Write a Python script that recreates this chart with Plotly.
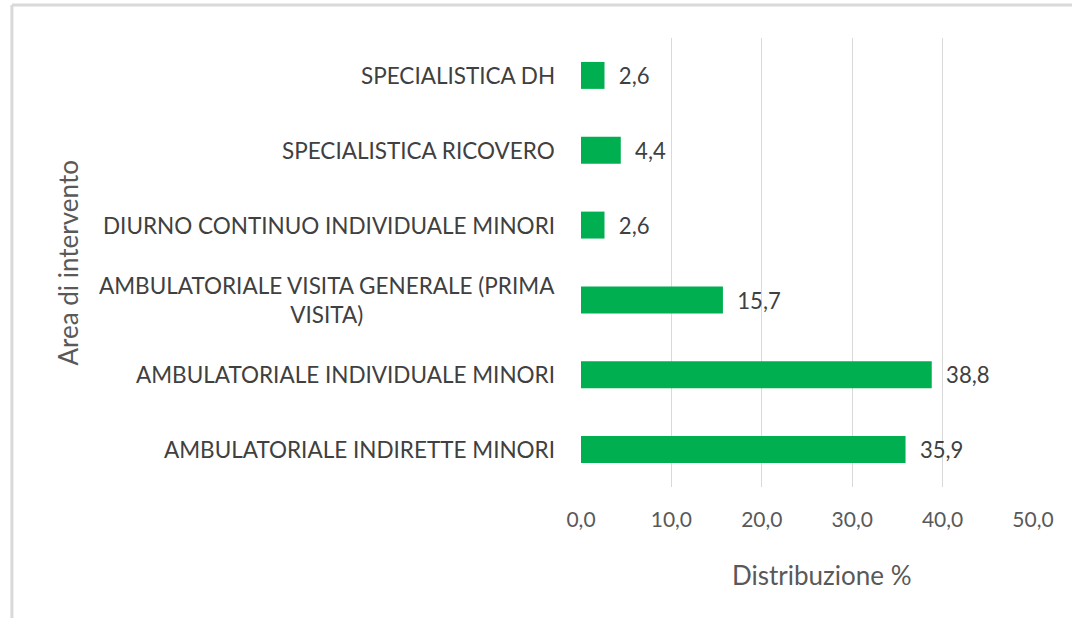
import plotly.graph_objects as go

categories = [
    "AMBULATORIALE INDIRETTE MINORI",
    "AMBULATORIALE INDIVIDUALE MINORI",
    "AMBULATORIALE VISITA GENERALE (PRIMA<br>VISITA)",
    "DIURNO CONTINUO INDIVIDUALE MINORI",
    "SPECIALISTICA RICOVERO",
    "SPECIALISTICA DH",
]
values = [35.9, 38.8, 15.7, 2.6, 4.4, 2.6]
tick_vals = [0, 10, 20, 30, 40, 50]

FONT = "Lato"
fig = go.Figure()
fig.add_trace(go.Bar(
    y=categories, x=values, orientation="h",
    marker=dict(color="#00B050", line=dict(width=0)),
    width=0.36,
    text=["  " + f"{v:.1f}".replace(".", ",") for v in values],
    textposition="outside",
    textfont=dict(family=FONT, size=23, color="#404040"),
    cliponaxis=False,
))

annotations = []
for c in categories:
    annotations.append(dict(
        x=0, xref="paper", y=c, yref="y", xanchor="right", yanchor="middle",
        xshift=-24, align="center", showarrow=False, text=c,
        font=dict(family=FONT, size=22.5, color="#404040"),
    ))
annotations.append(dict(
    x=-1.135, xref="paper", y=0.5, yref="paper", showarrow=False,
    xanchor="center", yanchor="middle",
    text="Area di intervento", textangle=-90,
    font=dict(family=FONT, size=26, color="#595959"),
))
annotations.append(dict(
    x=0.533, xref="paper", y=-0.196, yref="paper", showarrow=False,
    text="Distribuzione %", xanchor="center", yanchor="middle",
    font=dict(family=FONT, size=26, color="#595959"),
))

fig.update_layout(
    width=1072, height=618,
    margin=dict(l=581, r=39, t=38, b=131),
    paper_bgcolor="white", plot_bgcolor="white",
    separators=",.",
    showlegend=False,
    annotations=annotations,
    shapes=[
        dict(type="line", xref="paper", yref="paper", x0=-1.259, x1=1.2, y0=1.0735, y1=1.0735,
             line=dict(color="#d9d9d9", width=3)),
        dict(type="line", xref="paper", yref="paper", x0=-1.259, x1=-1.259, y0=1.0735, y1=-0.35,
             line=dict(color="#d9d9d9", width=3)),
    ],
)
fig.update_xaxes(
    range=[0, 50], tickvals=tick_vals, tickformat=".1f",
    showgrid=True, gridcolor="#d9d9d9", gridwidth=1,
    zeroline=False, showline=False, automargin=False,
    ticks="",
    tickfont=dict(family=FONT, size=21, color="#595959"),
    ticklabelstandoff=18,
)
fig.update_yaxes(
    categoryorder="array", categoryarray=categories, automargin=False,
    showticklabels=False, showgrid=False, zeroline=False, showline=False,
)

fig.write_html("out.html", config={"displayModeBar": False},
               post_script="document.body.style.margin='0';")
